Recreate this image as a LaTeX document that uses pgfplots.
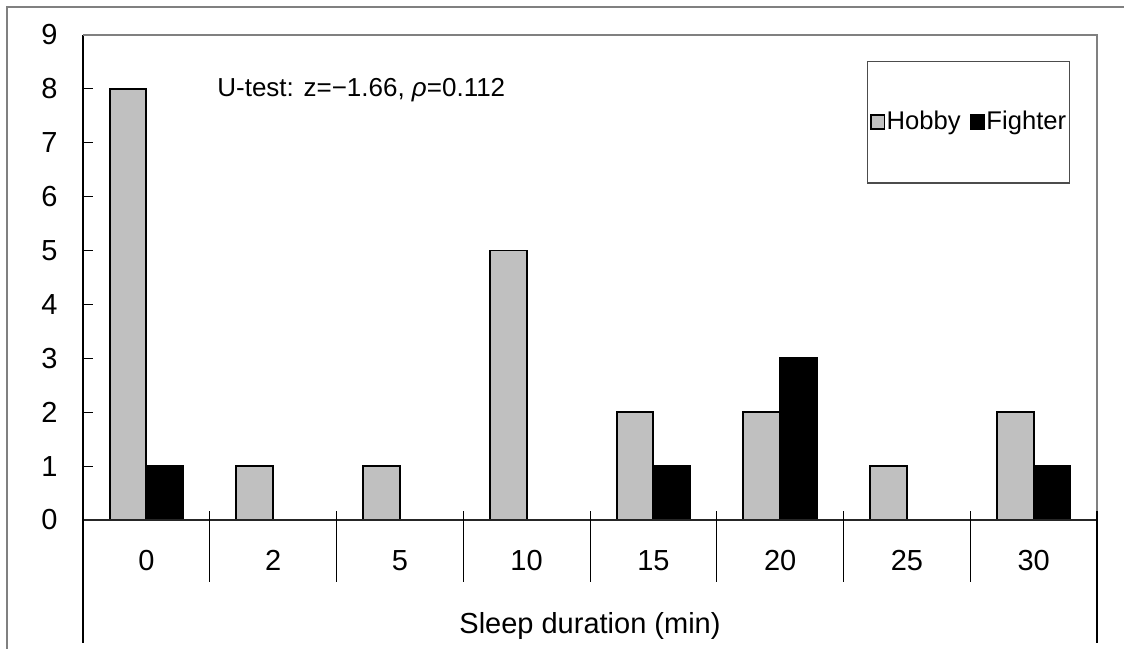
\documentclass[border=0pt]{standalone}
\usepackage{fontspec}
\setmainfont{Liberation Sans}
\usepackage{pgfplots}
\usepackage{pgfplotstable}
\pgfplotsset{compat=1.18}
\definecolor{bargray}{HTML}{C0C0C0}
\definecolor{framegray}{HTML}{808080}
\pgfplotstableread{
x y
0 8
1 1
2 1
3 5
4 2
5 2
6 1
7 2
}\hobby
\pgfplotstableread{
x y
0 1
1 0
2 0
3 0
4 1
5 3
6 0
7 1
}\fighter
\begin{document}
\begin{tikzpicture}[x=1pt,y=1pt]
\useasboundingbox (0,0) rectangle (562,324);
\draw[framegray, line width=0.9pt] (3.5,-1) -- (3.5,320.5) -- (563,320.5);
\begin{axis}[
  at={(41.5pt,64pt)}, anchor=south west, scale only axis,
  width=507pt, height=242.5pt,
  xmin=-0.5, xmax=7.5, ymin=0, ymax=9,
  clip=false,
  ybar, bar width=0.29,
  axis line style={draw=none},
  ytick={0,...,9}, xtick={0,...,7},
  xticklabels={0,2,5,10,15,20,25,30},
  tick align=inside, ytick pos=left, xtick pos=bottom,
  major tick length=5pt,
  ytick style={black, line width=0.6pt},
  xtick style={draw=none},
  /pgf/number format/assume math mode=true,
  tick label style={font=\fontsize{14.5}{16}\selectfont},
  y tick label style={inner sep=0pt, anchor=east, xshift=-12.5pt},
  x tick label style={inner sep=0pt, anchor=base, yshift=-25pt},
  xlabel={Sleep duration (min)},
  xlabel style={at={(axis description cs:0.5,0)}, anchor=base, yshift=-56.5pt, inner sep=0pt, font=\fontsize{14.5}{16}\selectfont},
  legend style={draw=none, fill=none, at={(rel axis cs:0.8735,0.8206)}, anchor=center,
    font=\fontsize{12.8}{14}\selectfont, inner sep=0pt,
    nodes={inner sep=0.6pt},
    /tikz/every even column/.append style={column sep=4pt}},
  legend columns=2,
  legend image code/.code={\draw[#1, draw=black, line width=0.9pt] (0pt,-3.3pt) rectangle (6.8pt,3.5pt);},
]
\addplot[fill=bargray, draw=black, line width=0.9pt, bar shift=-0.145] table[x=x,y=y] {\hobby};
\addplot[fill=black, draw=black, line width=0.9pt, bar shift=0.145] table[x=x,y=y] {\fighter};
\legend{Hobby, Fighter}
\draw[black!85, line width=1pt] (axis cs:-0.5,0) -- (axis cs:7.5,0);
\draw[black, line width=1pt] (axis cs:-0.5,-2.282) -- (axis cs:-0.5,9);
\draw[framegray, line width=1pt] (axis cs:-0.5,9) -- (axis cs:7.5,9) -- (axis cs:7.5,0);
\draw[black, line width=0.6pt] (axis cs:7.5,0.167) -- (axis cs:7.5,-2.282);
\pgfplotsinvokeforeach{0.5,1.5,2.5,3.5,4.5,5.5,6.5}{
  \draw[black, line width=0.5pt] (axis cs:#1,0.167) -- (axis cs:#1,-1.15);
}
\draw[black!70, line width=0.6pt] (rel axis cs:0.774,0.695) rectangle (rel axis cs:0.973,0.946);
\node[anchor=base west, font=\fontsize{13}{15}\selectfont, inner sep=0pt] at (axis cs:0.557,7.85) {U-test: z=−1.66, \textit{ρ}=0.112};
\end{axis}
\end{tikzpicture}
\end{document}
